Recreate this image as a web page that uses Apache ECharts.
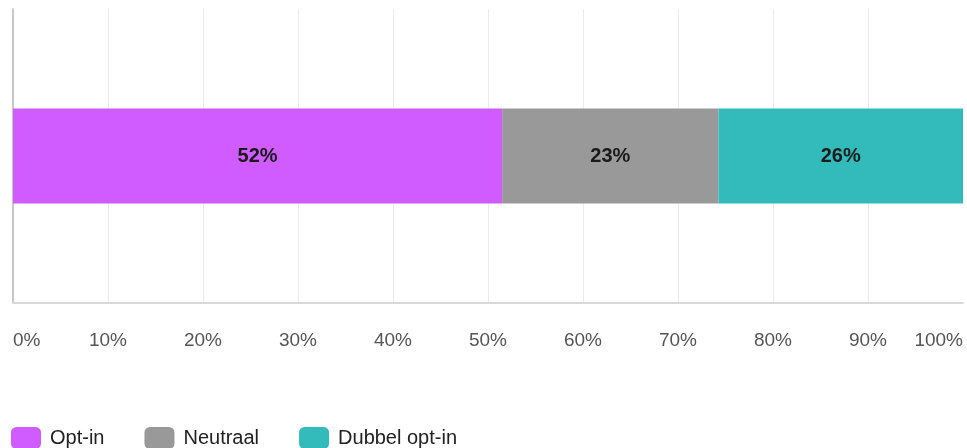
<!DOCTYPE html>
<html>
<head>
<meta charset="utf-8">
<script src="https://cdn.jsdelivr.net/npm/echarts@6/dist/echarts.min.js"></script>
<style>
  html, body { margin: 0; padding: 0; background: #fff; }
  #chart { width: 967px; height: 448px; }
</style>
</head>
<body>
<div id="chart"></div>
<script>
// Answer groups and their reported percentages
const seriesNames = ['Opt-in', 'Neutraal', 'Dubbel opt-in'];
const seriesValues = [52, 23, 26];
const seriesColors = ['#d05cff', '#999999', '#33bbbb'];
const categories = ['Voorkeur'];
const tickValues = [0, 10, 20, 30, 40, 50, 60, 70, 80, 90, 100];

// Percent-stacked: each segment is its share of the summed total
const total = seriesValues.reduce((a, b) => a + b, 0);
const shares = seriesValues.map(v => v / total * 100);

const fontFamily = '"Liberation Sans", Arial, sans-serif';

const chart = echarts.init(document.getElementById('chart'), null, { renderer: 'canvas' });

chart.setOption({
  animation: false,
  backgroundColor: '#ffffff',
  grid: { left: 13, right: 4, top: 9, bottom: 145, containLabel: false },
  xAxis: {
    type: 'value',
    min: tickValues[0],
    max: tickValues[tickValues.length - 1],
    interval: 10,
    axisLine: { show: true, lineStyle: { color: '#d9d9d9', width: 2 } },
    axisTick: { show: false },
    splitLine: { show: true, showMaxLine: false, lineStyle: { color: '#ececec', width: 1 } },
    axisLabel: {
      margin: 28,
      color: '#555555',
      fontFamily: fontFamily,
      fontSize: 19,
      alignMinLabel: 'left',
      alignMaxLabel: 'right',
      formatter: v => v + '%'
    }
  },
  yAxis: {
    type: 'category',
    data: categories,
    axisLine: { show: true, lineStyle: { color: '#c8c8c8', width: 2 } },
    axisTick: { show: false },
    axisLabel: { show: false }
  },
  legend: {
    data: seriesNames,
    left: 11,
    top: 427,
    padding: 0,
    itemWidth: 30,
    itemHeight: 22,
    itemGap: 40,
    icon: 'roundRect',
    textStyle: { color: '#222222', fontFamily: fontFamily, fontSize: 20, padding: [0, 0, 5, 4] }
  },
  series: seriesNames.map((name, i) => ({
    name: name,
    type: 'bar',
    stack: 'total',
    barWidth: 95,
    itemStyle: { color: seriesColors[i] },
    label: {
      show: true,
      position: 'inside',
      color: '#1a1a1a',
      fontFamily: fontFamily,
      fontWeight: 'bold',
      fontSize: 20,
      formatter: () => seriesValues[i] + '%'
    },
    data: [shares[i]]
  }))
});
</script>
</body>
</html>
